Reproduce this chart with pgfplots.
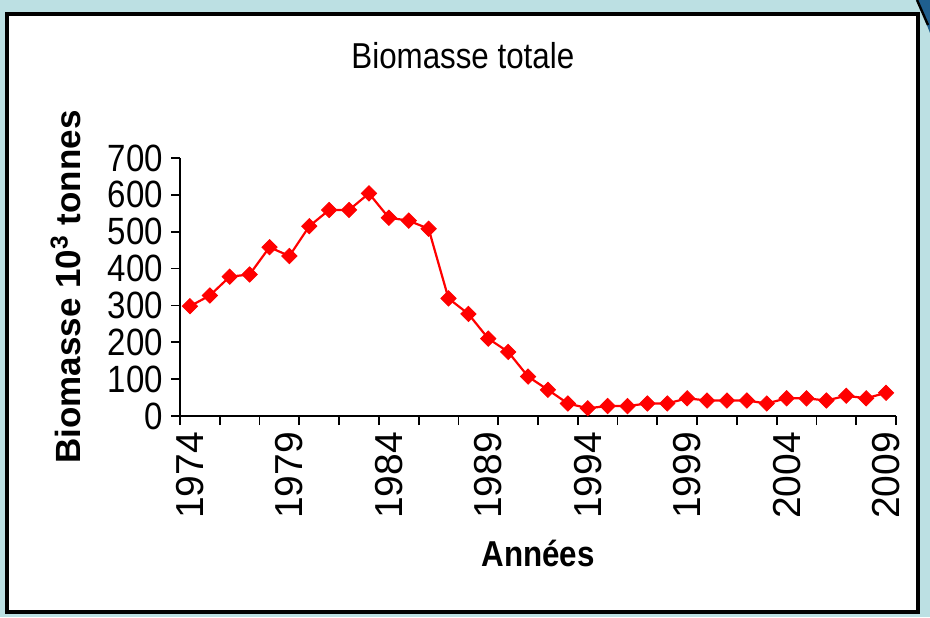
\documentclass[border=0pt]{standalone}
\usepackage{fontspec}
\setmainfont{Liberation Sans}
\newfontfamily\narrow{Liberation Sans}[FakeStretch=0.87]
\usepackage{pgfplots}
\pgfplotsset{compat=1.18}
\definecolor{bgblue}{HTML}{BCE0E3}
\definecolor{wedge}{HTML}{1F5F8F}
\begin{document}
\begin{tikzpicture}[x=1pt,y=1pt]
\useasboundingbox (0,0) rectangle (465,308.5);
\fill[bgblue] (0,0) rectangle (465,308.5);
\fill[wedge] (458.5,308.5) -- (465,308.5) -- (465,292) -- cycle;
\draw[black, line width=1.2pt] (458.5,308.5) -- (464,296);
\fill[white] (3.5,2.5) rectangle (459,301.5);
\draw[black, line width=1.6pt] (3.5,2.5) rectangle (459,301.5);
\begin{axis}[
  at={(90pt,100.5pt)}, anchor=south west,
  scale only axis, width=358pt, height=129pt,
  xmin=1973.5, xmax=2009.5, ymin=0, ymax=700,
  axis lines=left, axis line style={-, line width=0.9pt},
  ytick={0,100,...,700},
  xtick={1973.5,1975.5,...,2009.5},
  xticklabels={},
  extra x ticks={1974,1979,...,2009},
  extra x tick style={major tick length=0pt, tick style={draw=none}},
  major tick length=4.5pt,
  tick style={line width=0.9pt, black},
  tick align=outside,
  yticklabel style={font=\narrow\fontsize{19}{19}\selectfont, xshift=-0.5pt},
  xticklabel style={font=\fontsize{19.5}{19.5}\selectfont, rotate=90, anchor=east, xshift=-4.5pt},
  /pgf/number format/assume math mode=true,
  /pgf/number format/1000 sep={},
  title={Biomasse totale},
  title style={font=\narrow\fontsize{18}{18}\selectfont, at={(axis description cs:0.395,1.35)}, anchor=center},
  xlabel={Années},
  xlabel style={font=\narrow\bfseries\fontsize{18}{18}\selectfont, at={(axis description cs:0.5,-0.531)}, anchor=center},
  ylabel={Biomasse 10\textsuperscript{3} tonnes},
  ylabel style={font=\bfseries\fontsize{17.5}{17.5}\selectfont, at={(axis description cs:-0.16,0.5)}, anchor=center, rotate=0},
  clip=false,
]
\addplot[color=red, line width=1.1pt, mark=square*, mark size=2.7pt, mark options={rotate=45, fill=red, draw=red, line width=0.4pt}] coordinates {
(1974,298) (1975,327) (1976,378) (1977,384) (1978,458) (1979,434)
(1980,515) (1981,559) (1982,559) (1983,604) (1984,538) (1985,530)
(1986,508) (1987,319) (1988,277) (1989,210) (1990,174) (1991,107)
(1992,71) (1993,34) (1994,21) (1995,27) (1996,27) (1997,34)
(1998,34) (1999,48) (2000,42) (2001,42) (2002,42) (2003,34)
(2004,48) (2005,48) (2006,42) (2007,55) (2008,48) (2009,63)
};
\end{axis}
\end{tikzpicture}
\end{document}
